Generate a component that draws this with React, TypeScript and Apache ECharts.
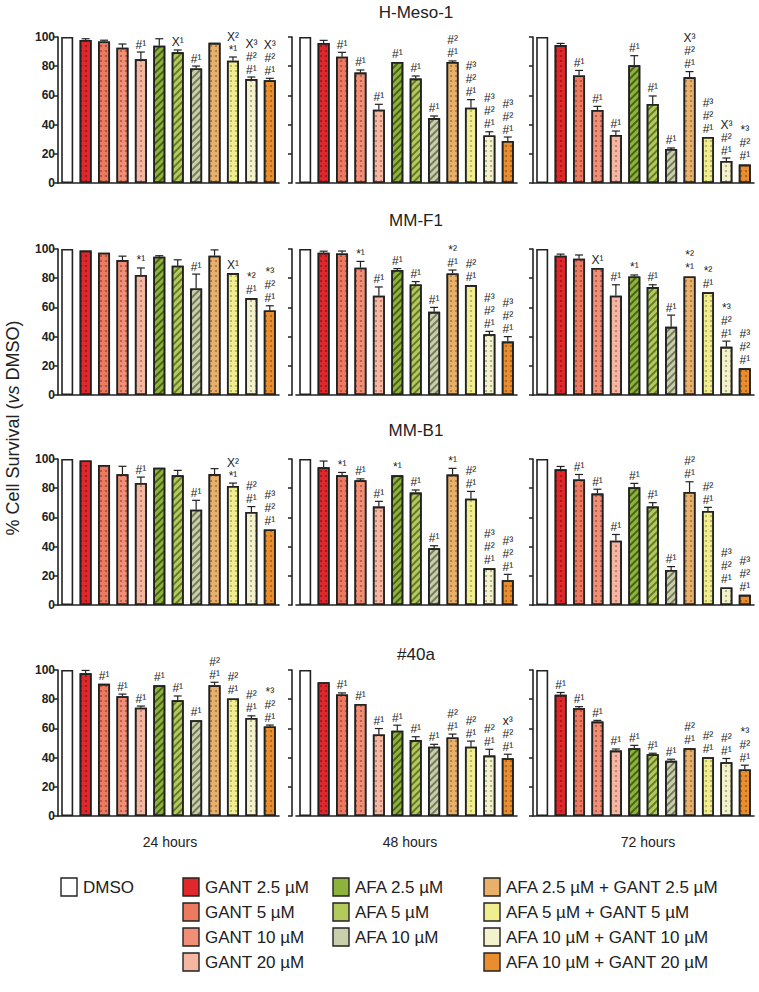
import React, { useEffect, useRef } from "react";
import * as echarts from "echarts";

const categories = [
  "DMSO", "GANT 2.5 µM", "GANT 5 µM", "GANT 10 µM", "GANT 20 µM",
  "AFA 2.5 µM", "AFA 5 µM", "AFA 10 µM",
  "AFA 2.5 µM + GANT 2.5 µM", "AFA 5 µM + GANT 5 µM",
  "AFA 10 µM + GANT 10 µM", "AFA 10 µM + GANT 20 µM",
];
const cellLines = ["H-Meso-1", "MM-F1", "MM-B1", "#40a"];
const timePoints = ["24 hours", "48 hours", "72 hours"];
const yTickMax = 100;
const yTickStep = 20;

// H-Meso-1
const hMeso24 = [100, 98, 97, 92.7, 84.7, 94, 89.5, 78.5, 96, 83.8, 71.2, 70.3];
const hMeso24Err = [0, 0.8, 0.8, 2.5, 5, 4.8, 1.6, 1.6, 0.5, 2.5, 1.4, 1.4];
const hMeso24Sig = ["", "", "", "", "#¹", "", "X¹", "#¹", "", "X²\n*¹", "X³\n#²\n#¹", "X³\n#²\n#¹"];
const hMeso48 = [100, 95.9, 86.5, 75.6, 50.2, 82.9, 71.5, 44.5, 82.9, 51.6, 32.6, 28.8];
const hMeso48Err = [0, 1.8, 3, 1.8, 3.7, 0.5, 1.8, 1.4, 0.7, 5.5, 2.5, 2.7];
const hMeso48Sig = ["", "", "#¹", "#¹", "#¹", "#¹", "#¹", "#¹", "#²\n#¹", "#³\n#²\n#¹", "#³\n#²\n#¹", "#³\n#²\n#¹"];
const hMeso72 = [100, 94.5, 73.7, 50, 32.9, 80.6, 54.1, 23.3, 72.4, 31.5, 15.1, 12.6];
const hMeso72Err = [0, 1.1, 3.4, 2.5, 2.7, 6.6, 5.5, 0.7, 3.9, 0.5, 2, 0.5];
const hMeso72Sig = ["", "", "#¹", "#¹", "#¹", "#¹", "#¹", "#¹", "X³\n#²\n#¹", "#³\n#²\n#¹", "X³\n#²\n#¹", "*³\n#²\n#¹"];

// MM-F1
const mmF124 = [100, 98.9, 97.5, 92.4, 82.2, 94.7, 88.6, 73, 95.4, 83.5, 66.4, 57.9];
const mmF124Err = [0, 0.4, 0.4, 2.7, 4.8, 0.7, 4, 9.8, 4, 0.4, 0.5, 3.2];
const mmF124Sig = ["", "", "", "", "*¹", "", "", "#¹", "", "X¹", "*²\n#¹", "*³\n#²\n#¹"];
const mmF148 = [100, 97.5, 97, 87.2, 68, 85.6, 75.7, 57, 83.3, 75.3, 41.6, 36.6];
const mmF148Err = [0, 1, 1.6, 4.3, 6, 1, 2, 3, 2.3, 0.5, 2, 3.4];
const mmF148Sig = ["", "", "", "*¹", "#¹", "#¹", "#¹", "#¹", "*²\n#¹", "#²\n#¹", "#³\n#²\n#¹", "#³\n#²\n#¹"];
const mmF172 = [100, 95.4, 93.4, 87, 68, 81.2, 73.9, 46.7, 81.2, 70.3, 33, 18.3];
const mmF172Err = [0, 1.1, 2.5, 0.4, 7.5, 1, 1.6, 8, 0.5, 0.4, 3.9, 0.4];
const mmF172Sig = ["", "", "", "X¹", "#¹", "*¹", "#¹", "#¹", "*²\n*¹", "*²\n#¹", "*³\n#²\n#¹", "#³\n#²\n#¹"];

// MM-B1
const mmB124 = [100, 99, 95.9, 89.5, 83.6, 94, 88.8, 65.3, 89.7, 81.5, 63.7, 51.7];
const mmB124Err = [0, 0.3, 0.3, 5.5, 4, 0.4, 3.4, 6.4, 3.7, 2, 3.7, 0.4];
const mmB124Sig = ["", "", "", "", "#¹", "", "", "#¹", "", "X²\n*¹", "#²\n#¹", "#³\n#²\n#¹"];
const mmB148 = [100, 94.3, 88.8, 85.4, 67.4, 88.8, 77, 38.8, 89.3, 72.8, 25.1, 17];
const mmB148Err = [0, 4.3, 2, 1, 3.6, 0.4, 1.8, 1.8, 4.3, 5, 0.5, 4];
const mmB148Sig = ["", "", "*¹", "#¹", "#¹", "*¹", "#¹", "#¹", "*¹", "#²\n#¹", "#³\n#²\n#¹", "#³\n#²\n#¹"];
const mmB172 = [100, 92.9, 86, 76.3, 44, 80.6, 67.4, 24, 77.4, 64.4, 12, 7];
const mmB172Err = [0, 2, 3.4, 3, 4.3, 2.7, 2.7, 2.3, 7, 2.5, 0.5, 0.5];
const mmB172Sig = ["", "", "#¹", "#¹", "#¹", "#¹", "#¹", "#¹", "#²\n#¹", "#²\n#¹", "#³\n#²\n#¹", "#³\n#²\n#¹"];

// #40a
const p40a24 = [100, 97.7, 90.5, 82.1, 74.2, 89.6, 79.2, 65.6, 89.6, 80.5, 67.2, 61.3];
const p40a24Err = [0, 2, 0.5, 1.4, 1.1, 0.5, 3, 0.4, 2, 0.5, 1.4, 1];
const p40a24Sig = ["", "", "#¹", "#¹", "#¹", "#¹", "#¹", "#¹", "#²\n#¹", "#²\n#¹", "#²\n#¹", "*³\n#²\n#¹"];
const p40a48 = [100, 91.6, 83.3, 76.7, 55.9, 58.4, 52, 47.5, 53.8, 47.5, 41.4, 39.6];
const p40a48Err = [0, 0.4, 1, 0.5, 4, 3.8, 2.3, 1.6, 2.3, 3.8, 4.3, 2.7];
const p40a48Sig = ["", "", "#¹", "#¹", "#¹", "#¹", "#¹", "#¹", "#²\n#¹", "#²\n#¹", "#²\n#¹", "x³\n#²\n#¹"];
const p40a72 = [100, 83, 73.8, 64.7, 44.8, 46.4, 42.3, 37.8, 46.4, 40.3, 36.9, 31.9];
const p40a72Err = [0, 1.6, 1.1, 0.8, 1.1, 2, 0.7, 1.1, 0.5, 0.5, 2.5, 2.9];
const p40a72Sig = ["", "#¹", "#¹", "#¹", "#¹", "#¹", "#¹", "#¹", "#²\n#¹", "#²\n#¹", "#²\n#¹", "*³\n#²\n#¹"];

const panelValues = [
  [hMeso24, hMeso48, hMeso72],
  [mmF124, mmF148, mmF172],
  [mmB124, mmB148, mmB172],
  [p40a24, p40a48, p40a72],
];
const panelErrors = [
  [hMeso24Err, hMeso48Err, hMeso72Err],
  [mmF124Err, mmF148Err, mmF172Err],
  [mmB124Err, mmB148Err, mmB172Err],
  [p40a24Err, p40a48Err, p40a72Err],
];
const panelSig = [
  [hMeso24Sig, hMeso48Sig, hMeso72Sig],
  [mmF124Sig, mmF148Sig, mmF172Sig],
  [mmB124Sig, mmB148Sig, mmB172Sig],
  [p40a24Sig, p40a48Sig, p40a72Sig],
];

// styling
const FONT = '"Liberation Sans", Arial, sans-serif';
const barColors = [
  "#ffffff", "#e0272b", "#ec7a60", "#f08f76", "#f6b7a2",
  "#8db33d", "#b3ca5d", "#c9cfab",
  "#e9b06c", "#f1ee90", "#f3f2cc", "#e98e2e",
];
const dots = (c: string) => ({ symbol: "circle", symbolSize: 1, dashArrayX: [1.2, 2.6], dashArrayY: [1.2, 2.6], color: c });
const hatch = (c: string) => ({ symbol: "rect", symbolSize: 1, dashArrayX: [1, 0], dashArrayY: [1.3, 2.2], rotation: -Math.PI / 4, color: c });
const barDecals: any[] = [
  null,
  dots("rgba(80,0,0,0.45)"), dots("rgba(90,20,10,0.45)"), dots("rgba(90,20,10,0.45)"), dots("rgba(90,30,20,0.4)"),
  hatch("rgba(30,45,0,0.6)"), hatch("rgba(40,55,0,0.55)"), hatch("rgba(50,55,30,0.55)"),
  dots("rgba(90,50,10,0.45)"), dots("rgba(80,80,0,0.4)"), dots("rgba(80,80,40,0.45)"), dots("rgba(90,40,0,0.45)"),
];

const colLeft = [58, 296, 533];
const yAxisOffset = [0, 4, 0];
const rowTop = [37, 249, 459, 670];
const gridW = 221;
const gridH = 146;

function buildOption() {
  const grid: any[] = [];
  const xAxis: any[] = [];
  const yAxis: any[] = [];
  const series: any[] = [];
  let k = 0;
  for (let r = 0; r < 4; r++) {
    for (let c = 0; c < 3; c++) {
      grid.push({ left: colLeft[c], top: rowTop[r], width: gridW, height: gridH });
      xAxis.push({
        type: "category", gridIndex: k, data: categories,
        axisLine: { lineStyle: { color: "#222", width: 1.6 } },
        axisTick: { show: false }, axisLabel: { show: false },
      });
      yAxis.push({
        type: "value", gridIndex: k, min: 0, max: yTickMax, interval: yTickStep,
        offset: yAxisOffset[c],
        axisLine: { show: true, lineStyle: { color: "#222", width: 1.6 } },
        axisTick: { show: true, length: 4, lineStyle: { color: "#222", width: 1.5 } },
        axisLabel: { show: c === 0, color: "#222", fontWeight: "bold", fontSize: 12, fontFamily: FONT, margin: 3 },
        splitLine: { show: false },
      });
      const vals = panelValues[r][c];
      const errs = panelErrors[r][c];
      const sig = panelSig[r][c];
      series.push({
        type: "bar", xAxisIndex: k, yAxisIndex: k, barWidth: 12,
        data: vals.map((v, i) => ({
          value: v,
          itemStyle: { color: barColors[i], borderColor: "#222", borderWidth: 1.6, decal: barDecals[i] || undefined },
        })),
      });
      series.push({
        type: "custom", xAxisIndex: k, yAxisIndex: k, z: 5, clip: false,
        encode: { x: 0, y: 1 },
        data: vals.map((v, i) => [i, v, errs[i]]),
        renderItem: (params: any, api: any) => {
          const idx = api.value(0);
          const v = api.value(1);
          const e = api.value(2);
          const base = api.coord([idx, v]);
          const top = api.coord([idx, v + e]);
          const children: any[] = [];
          if (e > 0.6) {
            children.push({ type: "line", shape: { x1: base[0], y1: base[1], x2: top[0], y2: top[1] }, style: { stroke: "#222", lineWidth: 1.2 } });
            children.push({ type: "line", shape: { x1: top[0] - 4, y1: top[1], x2: top[0] + 4, y2: top[1] }, style: { stroke: "#222", lineWidth: 1.2 } });
          }
          const txt = sig[params.dataIndex];
          if (txt) {
            children.push({
              type: "text", x: top[0], y: top[1] - 1,
              style: {
                text: txt, font: `12px ${FONT}`, fill: "#222", lineHeight: 13,
                align: "center", verticalAlign: "bottom", textAlign: "center", textVerticalAlign: "bottom",
              },
            });
          }
          return { type: "group", children };
        },
      });
      k++;
    }
  }

  const graphic: any[] = [];
  const titleY = [12, 220, 430, 654];
  cellLines.forEach((name, r) => {
    graphic.push({
      type: "text", x: 416, y: titleY[r],
      style: { text: name, font: `17px ${FONT}`, fill: "#222", align: "center", verticalAlign: "middle", textAlign: "center", textVerticalAlign: "middle" },
    });
  });
  const timeX = [170, 410, 648];
  timePoints.forEach((t, c) => {
    graphic.push({
      type: "text", x: timeX[c], y: 842,
      style: { text: t, font: `14px ${FONT}`, fill: "#222", align: "center", verticalAlign: "middle", textAlign: "center", textVerticalAlign: "middle" },
    });
  });
  graphic.push({
    type: "text", x: 13, y: 428, rotation: Math.PI / 2,
    style: {
      text: "% Cell Survival ({i|vs} DMSO)", font: `18px ${FONT}`, fill: "#222",
      align: "center", verticalAlign: "middle", textAlign: "center", textVerticalAlign: "middle",
      rich: { i: { fontStyle: "italic", fontSize: 18, fontFamily: FONT, fill: "#222", color: "#222" } },
    },
  });
  // legend layout: [column, row] per category
  const legendPos = [[0, 0], [1, 0], [1, 1], [1, 2], [1, 3], [2, 0], [2, 1], [2, 2], [3, 0], [3, 1], [3, 2], [3, 3]];
  const legX = [61, 183, 333, 484];
  const legY = [878, 903, 928, 953];
  categories.forEach((name, i) => {
    const [cx, ry] = legendPos[i];
    graphic.push({
      type: "rect", shape: { x: legX[cx], y: legY[ry], width: 16, height: 18 },
      style: { fill: barColors[i], stroke: "#222", lineWidth: 1.4 },
    });
    graphic.push({
      type: "text", x: legX[cx] + 22, y: legY[ry] + 9,
      style: { text: name, font: `17px ${FONT}`, fill: "#222", align: "left", verticalAlign: "middle", textAlign: "left", textVerticalAlign: "middle" },
    });
  });

  return { animation: false, backgroundColor: "#ffffff", grid, xAxis, yAxis, series, graphic };
}

export default function App() {
  const ref = useRef<HTMLDivElement>(null);
  useEffect(() => {
    if (!ref.current) return;
    const chart = echarts.init(ref.current, undefined, { renderer: "svg" });
    chart.setOption(buildOption() as any);
    return () => chart.dispose();
  }, []);
  return <div ref={ref} style={{ position: "fixed", left: 0, top: 0, width: 759, height: 992 }} />;
}
